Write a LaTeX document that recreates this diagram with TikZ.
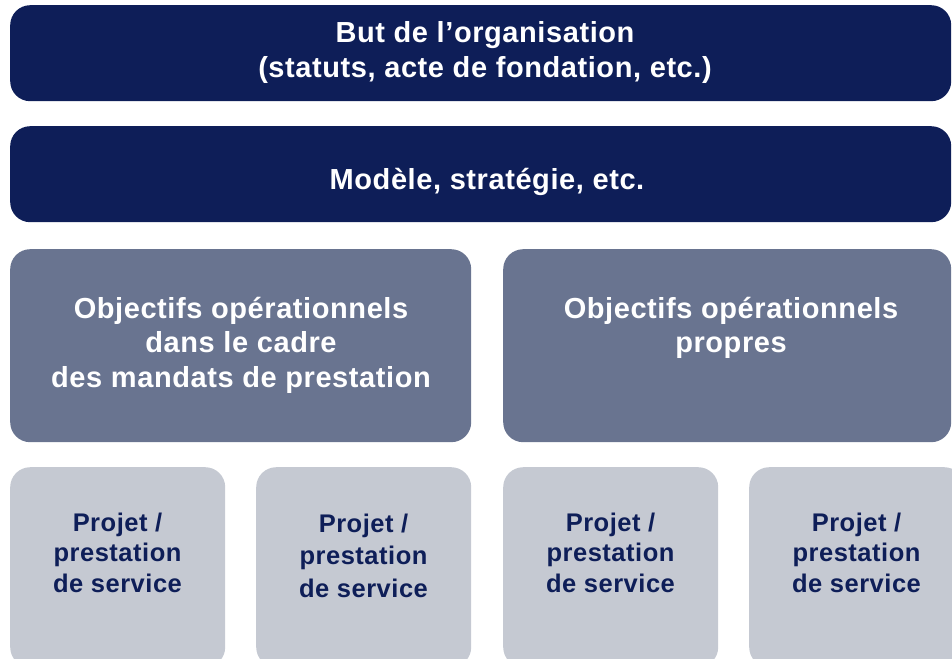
\documentclass[tikz,border=0pt]{standalone}
\usepackage{fontspec}
\setmainfont{Liberation Sans}[LetterSpace=2]
\usetikzlibrary{positioning,calc}
\definecolor{navy}{HTML}{0E1E58}
\definecolor{slate}{HTML}{697490}
\definecolor{mist}{HTML}{C5C9D2}
\tikzset{
  block/.style={rectangle,rounded corners=20pt,draw=none,inner sep=0pt,anchor=north west},
  topblock/.style={block,fill=navy,minimum width=941pt,minimum height=96pt},
  midblock/.style={block,fill=slate,minimum height=193pt},
  lowblock/.style={block,fill=mist,minimum width=215pt,minimum height=200pt},
  caption/.style={align=center,anchor=base,inner sep=0pt,font=\fontsize{29}{34.5}\selectfont\bfseries}
}

\begin{document}
\begin{tikzpicture}[x=1pt,y=-1pt]
  \useasboundingbox (0,0) rectangle (952,658);
  \clip (0,0) rectangle (952,658);

  % purpose and model (base = last line)
  \node[topblock] (but) at (10,5) {};
  \node[topblock] (modele) at (10,126) {};
  \node[caption,white] (buttxt) at (485,77.5) {But de l’organisation\\(statuts, acte de fondation, etc.)};
  \node[caption,white] (modeletxt) at (487,189) {Modèle, stratégie, etc.};

  % operational objectives
  \node[midblock,minimum width=461pt] (mandats) at (10,249) {};
  \node[midblock,minimum width=448pt] (propres) at (503,249) {};
  \node[caption,white] (mandatstxt) at (241,387) {Objectifs opérationnels\\dans le cadre\\des mandats de prestation};
  \node[caption,white] (proprestxt) at (731,352.5) {Objectifs opérationnels\\propres};

  % projects
  \foreach \x/\n/\s/\b in {10/1/30.5/592,256/2/32.5/597,503/3/30.5/592,749/4/30.5/592} {
    \node[lowblock] (proj\n) at (\x,467) {};
    \node[caption,navy,font=\fontsize{25.5}{\s}\selectfont\bfseries] (projtxt\n) at (\x+107.5,\b) {Projet /\\prestation\\de service};
  }
\end{tikzpicture}
\end{document}
